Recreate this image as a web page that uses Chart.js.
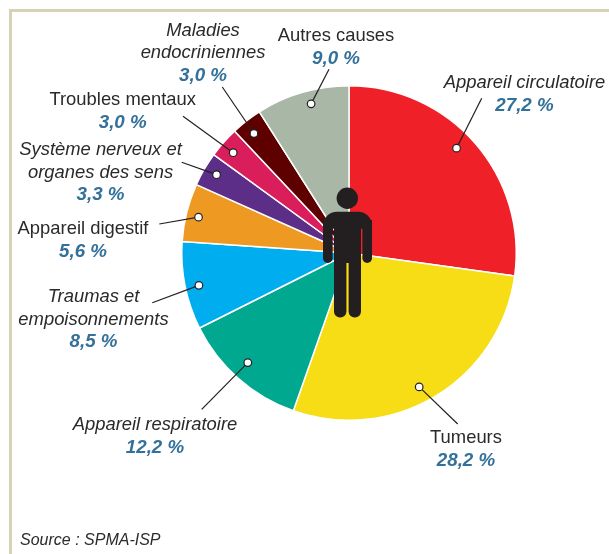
<!DOCTYPE html>
<html lang="fr">
<head>
<meta charset="utf-8">
<title>Causes de décès</title>
<script src="https://cdn.jsdelivr.net/npm/chart.js@4"></script>
<style>
html,body{margin:0;padding:0;background:#fff;overflow:hidden}
canvas{display:block}
</style>
</head>
<body>
<canvas id="c" width="609" height="554"></canvas>
<script>
// Data
const categories = ["Appareil circulatoire","Tumeurs","Appareil respiratoire","Traumas et empoisonnements","Appareil digestif","Système nerveux et organes des sens","Troubles mentaux","Maladies endocriniennes","Autres causes"];
const values = [27.2,28.2,12.2,8.5,5.6,3.3,3.0,3.0,9.0];
const source = "Source : SPMA-ISP";

// Styles and layout
const colors = ["#ef2027","#f6dd15","#00a88f","#00aeef","#ee9a22","#5c2e87","#d91e5b","#5e0000","#a8b7a6"];
const labelLines = [["Appareil circulatoire"],["Tumeurs"],["Appareil respiratoire"],["Traumas et","empoisonnements"],["Appareil digestif"],["Système nerveux et","organes des sens"],["Troubles mentaux"],["Maladies","endocriniennes"],["Autres causes"]];
const italicLabel = [true,false,true,true,false,true,false,true,false];
const labelX = [524.5,466,155,93.5,83,100.5,122.7,203,336];
const firstBaseline = [88,443,430,302,234,155,105,35.7,41];
const dotAngleFrac = [.467,.536,.53,.473,.468,.545,.454,.435,.56];
const dotRadiusFrac = [.898,.904,.892,.918,.925,.92,.916,.913,.92];
const leaderEndX = [481.7,457.7,201.7,152.3,159.3,181.7,183,222.3,329];
const leaderEndY = [98.3,424,409.3,302.7,224,162.3,116.3,87,69.3];

const annotations = {
  id:"annotations",
  afterDatasetsDraw(chart){
    const ctx = chart.ctx;
    ctx.save();
    // frame
    ctx.fillStyle="#d5d3b3";
    ctx.fillRect(9,9,600,3);
    ctx.fillRect(9,9,3,545);

    // leaders and dots
    const arcs = chart.getDatasetMeta(0).data;
    arcs.forEach((arc,i)=>{
      const p = arc.getProps(["x","y","startAngle","endAngle","outerRadius"],true);
      const a = p.startAngle+(p.endAngle-p.startAngle)*dotAngleFrac[i];
      const r = p.outerRadius*dotRadiusFrac[i];
      const x = p.x+Math.cos(a)*r, y = p.y+Math.sin(a)*r;
      ctx.strokeStyle="#231f20";
      ctx.lineWidth=1.2;
      ctx.beginPath();ctx.moveTo(x,y);ctx.lineTo(leaderEndX[i],leaderEndY[i]);ctx.stroke();
      ctx.beginPath();ctx.arc(x,y,3.8,0,Math.PI*2);
      ctx.fillStyle="#fff";ctx.fill();ctx.stroke();
    });

    // person
    const cx = arcs[0].x-2;
    ctx.fillStyle="#231f20";
    ctx.beginPath();ctx.arc(cx+0.3,198.3,10.7,0,Math.PI*2);ctx.fill();
    ctx.beginPath();ctx.roundRect(cx-24,211.7,49,17,[14,14,0,0]);ctx.fill();
    ctx.beginPath();ctx.roundRect(cx-24,220,9.6,43,[0,0,5,5]);ctx.fill();
    ctx.beginPath();ctx.roundRect(cx+15.4,220,9.6,43,[0,0,5,5]);ctx.fill();
    ctx.fillRect(cx-13,212,27,51);
    ctx.beginPath();ctx.roundRect(cx-13,250,12.4,67.5,[0,0,6,6]);ctx.fill();
    ctx.beginPath();ctx.roundRect(cx+1.6,250,12.4,67.5,[0,0,6,6]);ctx.fill();

    // text
    ctx.textAlign="center";
    ctx.textBaseline="alphabetic";
    categories.forEach((_,i)=>{
      let y = firstBaseline[i];
      ctx.font=(italicLabel[i]?"italic ":"")+"18.4px 'Liberation Sans'";
      ctx.fillStyle="#2b2a2b";
      labelLines[i].forEach(line=>{ctx.fillText(line,labelX[i],y);y+=22.6;});
      ctx.font="italic bold 18.8px 'Liberation Sans'";
      ctx.fillStyle="#33709a";
      ctx.fillText(values[i].toFixed(1).replace(".",",")+" %",labelX[i],y);
    });
    ctx.textAlign="left";
    ctx.font="italic 16px 'Liberation Sans'";
    ctx.fillStyle="#2b2a2b";
    ctx.fillText(source,20,544.7);
    ctx.restore();
  }
};

new Chart(document.getElementById("c"),{
  type:"pie",
  data:{labels:categories,datasets:[{data:values,backgroundColor:colors,borderColor:"#fff",borderWidth:1.5}]},
  options:{
    responsive:false,
    animation:false,
    layout:{padding:{left:181,right:92,top:85,bottom:133}},
    plugins:{legend:{display:false},tooltip:{enabled:false},title:{display:false}}
  },
  plugins:[annotations]
});
</script>
</body>
</html>
